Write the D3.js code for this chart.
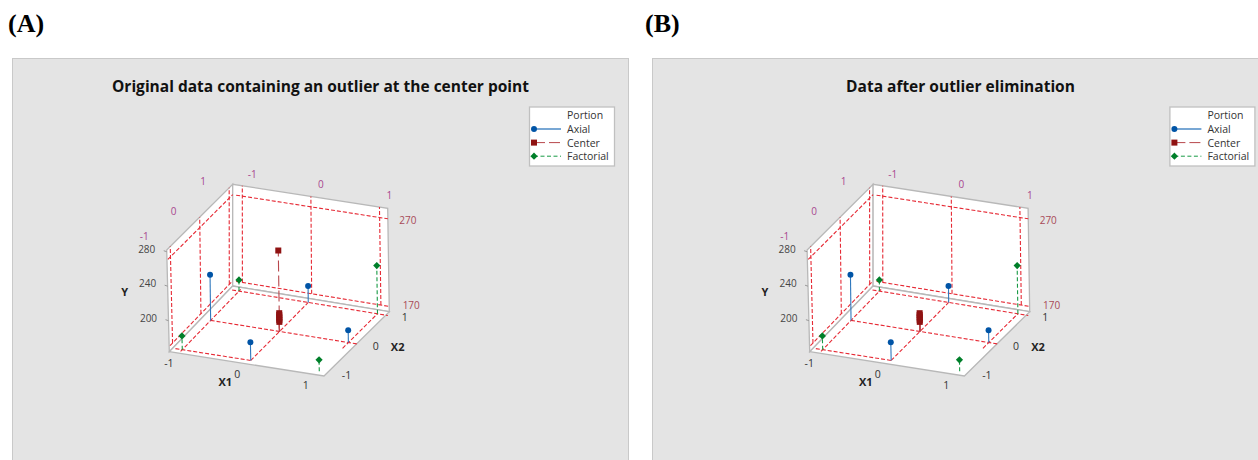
<!DOCTYPE html>
<html>
<head>
<meta charset="utf-8">
<script src="https://cdn.jsdelivr.net/npm/d3@7"></script>
<style>
  body { margin: 0; background: #fff; }
  svg { display: block; }
  text { font-family: "Open Sans", "Noto Sans", sans-serif; }
</style>
</head>
<body>
<div id="chart"></div>
<script>
// Data
const panelLetters = ['(A)', '(B)'];
const panelTitles = ['Original data containing an outlier at the center point', 'Data after outlier elimination'];
const legendTitle = 'Portion';
const portions = ['Axial', 'Center', 'Factorial'];

const axialX1 = [-1, 0, 0, 1];
const axialX2 = [0, -1, 1, 0];
const axialY = [217, 185, 183, 178];

const factorialX1 = [-1, -1, 1, 1];
const factorialX2 = [-1, 1, 1, -1];
const factorialY = [180, 177, 219, 177];

// center runs, the first panel also has the outlier
const centerYA = [257, 175, 177, 179, 181, 183, 185];
const centerYB = [175, 177, 179, 181, 183, 185];

const x1Ticks = [-1, 0, 1];
const x2Ticks = [-1, 0, 1];
const yTicksLeft = [200, 240, 280];
const yTicksRight = [170, 270];

// [fixed value, from, to] of the dashed reference lines on the floor
const floorX1Lines = [[-1, -1.06, 1.06], [0, -1, 1], [1, -0.2, 1]];
const floorX2Lines = [[-1, -1.1, 0], [0, -1, 1.15], [1, -1.1, 1.15]];

const width = 1258;
const height = 460;
const panelX = [12.5, 652.5];
const panelW = 616;

const color = d3.scaleOrdinal().domain(portions).range(['#0054a6', '#8f1212', '#007f2a']);
const stemColor = d3.scaleOrdinal().domain(portions).range(['#2f78bd', '#b8474c', '#179a45']);
const dash = d3.scaleOrdinal().domain(portions).range(['none', '11 4', '4 2.5']);
const symbolType = d3.scaleOrdinal().domain(portions).range(['circle', 'square', 'diamond']);

// Scales of the 3d box
const uScale = d3.scaleLinear([-1.14, 1.12], [0, 1]);
const vScale = d3.scaleLinear([-1.12, 1.12], [0, 1]);
const hScale = d3.scaleLinear([164, 282], [0, 1]);

// box corners on the page (panel A), order: front-left, front-right, back-right, back-left
const floorCorners = [[169.3, 351.7], [324, 376], [389.3, 311.7], [232.7, 286]];
const topCorners = [[166.7, 250], [322, 272], [387.7, 208.3], [232.7, 184.3]];

function bilinear(c, u, v) {
  const w = [(1 - u) * (1 - v), u * (1 - v), u * v, (1 - u) * v];
  return [d3.sum(c, (p, i) => p[0] * w[i]), d3.sum(c, (p, i) => p[1] * w[i])];
}

function project(x1, x2, y) {
  const u = uScale(x1);
  const v = vScale(x2);
  const h = hScale(y);
  const a = bilinear(floorCorners, u, v);
  const b = bilinear(topCorners, u, v);
  return [a[0] + (b[0] - a[0]) * h, a[1] + (b[1] - a[1]) * h];
}

const x1Min = uScale.domain()[0];
const x1Max = uScale.domain()[1];
const x2Min = vScale.domain()[0];
const x2Max = vScale.domain()[1];
const yMin = hScale.domain()[0];
const yMax = hScale.domain()[1];

const line3d = d3.line();

function marker(sel, type, size) {
  if (type === 'circle') {
    sel.attr('d', d3.symbol(d3.symbolCircle, size * size * 0.78)());
  } else if (type === 'square') {
    sel.attr('d', d3.symbol(d3.symbolSquare, size * size)());
  } else {
    sel.attr('d', d3.symbol(d3.symbolSquare, size * size * 0.72)());
  }
}

const svg = d3.select('#chart').append('svg').attr('width', width).attr('height', height);

function drawPanel(i, centerY) {
  const dx = i === 0 ? 0 : 640.4;
  const g = svg.append('g');

  // panel letter
  g.append('text')
    .attr('x', i === 0 ? 8 : 645)
    .attr('y', 32)
    .style('font-family', '"Liberation Serif", serif')
    .style('font-weight', 'bold')
    .style('font-size', '26px')
    .attr('fill', '#000')
    .text(panelLetters[i]);

  g.append('rect')
    .attr('x', panelX[i])
    .attr('y', 58.5)
    .attr('width', panelW)
    .attr('height', height)
    .attr('fill', '#e4e4e4')
    .attr('stroke', '#c9c9c9');

  g.append('text')
    .attr('x', panelX[i] + 308)
    .attr('y', 92)
    .attr('text-anchor', 'middle')
    .style('font-weight', 'bold')
    .style('font-size', '15.5px')
    .attr('fill', '#111')
    .text(panelTitles[i]);

  // legend
  const lg = g.append('g').attr('transform', `translate(${dx}, 0)`);
  lg.append('rect')
    .attr('x', 529.5)
    .attr('y', 107)
    .attr('width', 85)
    .attr('height', 59)
    .attr('fill', '#fff')
    .attr('stroke', '#c0c0c0')
    .attr('stroke-width', 1.3);
  lg.append('text')
    .attr('x', 567)
    .attr('y', 119)
    .style('font-size', '10.5px')
    .attr('fill', '#333')
    .text(legendTitle);
  portions.forEach((p, k) => {
    const ly = 129 + k * 13.6;
    lg.append('line')
      .attr('x1', 534)
      .attr('x2', 561)
      .attr('y1', ly)
      .attr('y2', ly)
      .attr('stroke', stemColor(p))
      .attr('stroke-width', p === 'Axial' ? 1.3 : 1)
      .attr('stroke-dasharray', dash(p));
    lg.append('path')
      .attr('transform', `translate(534, ${ly})${symbolType(p) === 'diamond' ? ' rotate(45)' : ''}`)
      .attr('fill', color(p))
      .call(marker, symbolType(p), 6);
    lg.append('text')
      .attr('x', 567)
      .attr('y', ly + 4)
      .style('font-size', '10.5px')
      .attr('fill', '#333')
      .text(p);
  });

  const plot = g.append('g').attr('transform', `translate(${dx}, 0)`);

  // walls and floor
  const walls = [
    [project(x1Min, x2Min, yMin), project(x1Min, x2Max, yMin), project(x1Min, x2Max, yMax), project(x1Min, x2Min, yMax)],
    [project(x1Min, x2Max, yMin), project(x1Max, x2Max, yMin), project(x1Max, x2Max, yMax), project(x1Min, x2Max, yMax)],
    [project(x1Min, x2Min, yMin), project(x1Max, x2Min, yMin), project(x1Max, x2Max, yMin), project(x1Min, x2Max, yMin)],
  ];
  plot
    .selectAll('.wall')
    .data(walls)
    .join('path')
    .attr('class', 'wall')
    .attr('d', (d) => `${line3d(d)}Z`)
    .attr('fill', '#fff')
    .attr('stroke', '#b8b8b8')
    .attr('stroke-width', 1.3);

  // dashed reference lines
  const refs = [];
  x1Ticks.forEach((t) => {
    refs.push([project(t, x2Max, yMin + 6), project(t, x2Max, yMax)]);
  });
  x2Ticks.forEach((t) => {
    refs.push([project(x1Min, t, yMin + 6), project(x1Min, t, yMax)]);
  });
  yTicksRight.forEach((t) => {
    refs.push([project(x1Min + 0.05, x2Max, t), project(x1Max, x2Max, t)]);
    refs.push([project(x1Min, x2Min + 0.03, t), project(x1Min, x2Max, t)]);
  });
  floorX1Lines.forEach(([t, a, b]) => refs.push([project(t, a, yMin), project(t, b, yMin)]));
  floorX2Lines.forEach(([t, a, b]) => refs.push([project(a, t, yMin), project(b, t, yMin)]));
  plot
    .selectAll('.ref')
    .data(refs)
    .join('path')
    .attr('class', 'ref')
    .attr('d', (d) => line3d(d))
    .attr('fill', 'none')
    .attr('stroke', '#e62a35')
    .attr('stroke-width', 1.1)
    .attr('stroke-dasharray', '4 2');

  // tick labels
  const tick = (pt, ox, oy, txt, col, size) => {
    plot
      .append('text')
      .attr('x', pt[0] + ox)
      .attr('y', pt[1] + oy)
      .attr('text-anchor', 'middle')
      .attr('dominant-baseline', 'central')
      .style('font-size', size || '10px')
      .attr('fill', col)
      .text(txt);
  };
  x1Ticks.forEach((t) => {
    tick(project(t, x2Max, yMax), 10, -12, t, '#a8478f');
    tick(project(t, x2Min, yMin), -10, 10, t, '#333', '10.5px');
  });
  x2Ticks.forEach((t) => {
    tick(project(x1Min, t, yMax), -26, t === -1 ? -10 : -6.5, t, '#a8478f');
    tick(project(x1Max, t, yMin), 19, 2, t, '#333', '10.5px');
  });
  yTicksLeft.forEach((t) => {
    tick(project(x1Min, x2Min, t), -20, -3, t, '#444');
    plot
      .append('line')
      .attr('x1', project(x1Min, x2Min, t)[0] - 3)
      .attr('x2', project(x1Min, x2Min, t)[0])
      .attr('y1', project(x1Min, x2Min, t)[1] - 1)
      .attr('y2', project(x1Min, x2Min, t)[1])
      .attr('stroke', '#999');
  });
  yTicksRight.forEach((t) => {
    tick(project(x1Max, x2Max, t), t === 170 ? 22 : 20, t === 170 ? -1 : 1.5, t, '#a84a58');
  });

  // axis names
  const axisName = (pt, ox, oy, txt) => {
    plot
      .append('text')
      .attr('x', pt[0] + ox)
      .attr('y', pt[1] + oy)
      .attr('text-anchor', 'middle')
      .attr('dominant-baseline', 'central')
      .style('font-weight', 'bold')
      .style('font-size', '11px')
      .attr('fill', '#222')
      .text(txt);
  };
  axisName(project(0, x2Min, yMin), -22, 18, 'X1');
  axisName(project(x1Max, 0, yMin), 41, 3, 'X2');
  axisName(project(x1Min, x2Min, 240), -43, 5, 'Y');

  // stems + markers
  const points = [];
  axialX1.forEach((d, k) => points.push({ portion: 'Axial', x1: d, x2: axialX2[k], y: axialY[k] }));
  centerY.forEach((d) => points.push({ portion: 'Center', x1: 0, x2: 0, y: d }));
  factorialX1.forEach((d, k) => points.push({ portion: 'Factorial', x1: d, x2: factorialX2[k], y: factorialY[k] }));

  plot
    .selectAll('.stem')
    .data(points)
    .join('path')
    .attr('class', 'stem')
    .attr('d', (d) => line3d([project(d.x1, d.x2, yMin), project(d.x1, d.x2, d.y)]))
    .attr('fill', 'none')
    .attr('stroke', (d) => stemColor(d.portion))
    .attr('stroke-width', 1.1)
    .attr('stroke-dasharray', (d) => dash(d.portion));

  plot
    .selectAll('.pt')
    .data(points)
    .join('path')
    .attr('class', 'pt')
    .attr('transform', (d) => {
      const p = project(d.x1, d.x2, d.y);
      return `translate(${p[0]}, ${p[1]})${symbolType(d.portion) === 'diamond' ? ' rotate(45)' : ''}`;
    })
    .attr('fill', (d) => color(d.portion))
    .each(function (d) {
      d3.select(this).call(marker, symbolType(d.portion), 6);
    });
}

drawPanel(0, centerYA);
drawPanel(1, centerYB);
</script>
</body>
</html>
